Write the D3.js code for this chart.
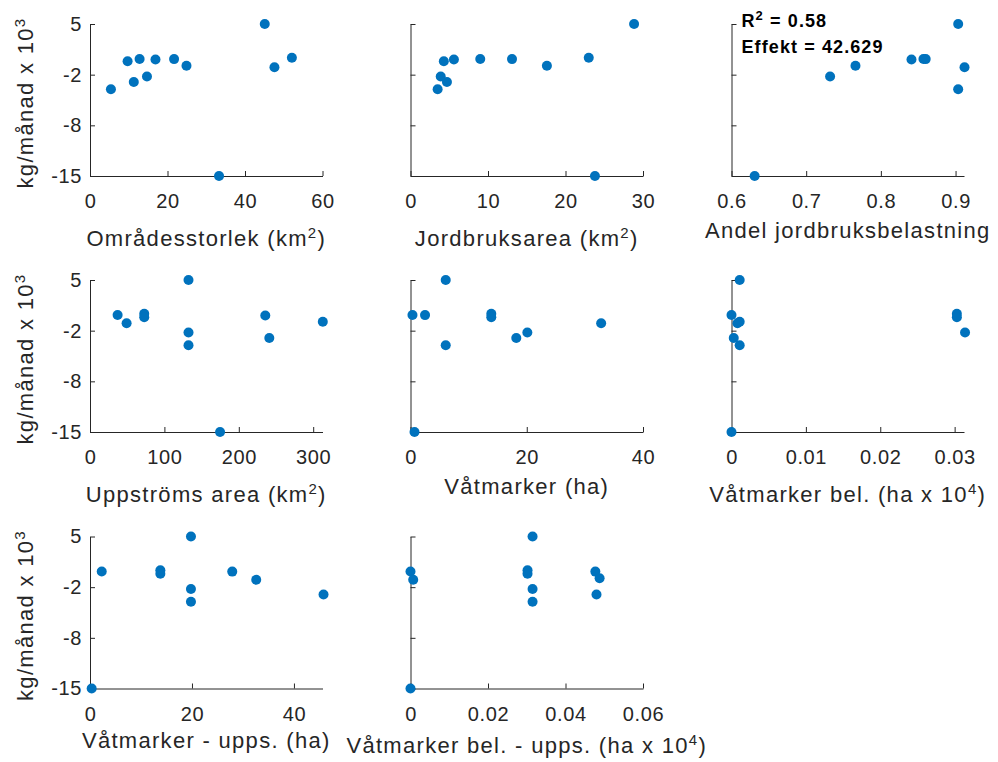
<!DOCTYPE html>
<html>
<head>
<meta charset="utf-8">
<script src="https://cdn.jsdelivr.net/npm/d3@7"></script>
<style>
  html, body { margin: 0; padding: 0; background: #ffffff; }
  svg { display: block; }
  .axis .domain, .axis .tick line { stroke: #262626; stroke-width: 1; }
  .axis text { fill: #262626; font-size: 20px; font-family: "Liberation Sans", Arial, sans-serif; letter-spacing: 0.6px; }
  .lab { fill: #262626; font-size: 22px; font-family: "Liberation Sans", Arial, sans-serif; letter-spacing: 1.3px; }
  .stat { fill: #000000; font-size: 18px; font-weight: bold; font-family: "Liberation Sans", Arial, sans-serif; letter-spacing: 1.1px; }
</style>
</head>
<body>
<div id="chart"></div>
<script>
// Monthly load change (kg/månad x 10^3) per catchment, one entry per site
const loadChange = [5, 0.55, 0.4, 0.38, 0.34, 0.1, -0.5, -0.68, -1.9, -2.62, -3.58, -15];

// Explanatory variables, same site order as loadChange (null = not plotted)
const omradesstorlek   = [45.1, 52.1, 12.8, 21.7, 16.9, 9.7, 24.9, 47.6, 14.7, 11.3, 5.4, 33.3];
const jordbruksarea    = [28.85, 23.0, 9.0, 13.1, 5.6, 4.3, 17.6, null, 3.9, 4.7, 3.5, 23.8];
const andelJordbruk    = [0.9035, null, 0.857, 0.86, 0.841, null, 0.766, 0.912, 0.732, null, 0.9035, 0.631];
const uppstromsArea    = [132.4, 72.9, 37.1, null, 235.6, 72.9, 312.9, 49.2, 132.4, 241, 132.4, 174.8];
const vatmarker        = [6.06, 13.9, 0.34, 2.5, null, 13.9, null, 32.8, 20.1, 18.2, 6.06, 0.69];
const vatmarkerBel     = [0.0011, 0.0303, 0.0, null, null, 0.0303, 0.0011, 0.0008, 0.0314, 0.0003, 0.0011, 0];
const vatmarkerUpps    = [19.8, 13.8, 2.3, 27.9, null, 13.8, null, 32.6, 19.8, 45.8, 19.8, 0.33];
const vatmarkerBelUpps = [0.0315, 0.0302, 0, 0.0477, null, 0.0302, 0.0488, 0.0007, 0.0315, 0.048, 0.0315, 0];

// Shared y axis ticks (four evenly spaced ticks, labels rounded)
const yTickValues = [5, -5 / 3, -25 / 3, -15];
const yTickLabels = ["5", "-2", "-8", "-15"];
const yLabel = "kg/månad x 10^3";

// x-axis ticks for each panel
const ticksOmrade    = [0, 20, 40, 60];
const ticksJordbruk  = [0, 10, 20, 30];
const ticksAndel     = [0.6, 0.7, 0.8, 0.9];
const ticksUppstrom  = [0, 100, 200, 300];
const ticksVatmark   = [0, 20, 40];
const ticksBel       = [0, 0.01, 0.02, 0.03];
const ticksUpps      = [0, 20, 40];
const ticksBelUpps   = [0, 0.02, 0.04, 0.06];

// Regression summary shown in the third panel
const statLines = ["R^2 = 0.58", "Effekt = 42.629"];

const panels = [
  { row: 0, col: 0, x: omradesstorlek,   domain: [0, 60],        ticks: ticksOmrade,   label: "Områdesstorlek (km^2)" },
  { row: 0, col: 1, x: jordbruksarea,    domain: [0, 30],        ticks: ticksJordbruk, label: "Jordbruksarea (km^2)" },
  { row: 0, col: 2, x: andelJordbruk,    domain: [0.6, 0.9113],  ticks: ticksAndel,    label: "Andel jordbruksbelastning", stats: true },
  { row: 1, col: 0, x: uppstromsArea,    domain: [0, 312.5],     ticks: ticksUppstrom, label: "Uppströms area (km^2)" },
  { row: 1, col: 1, x: vatmarker,        domain: [0, 40],        ticks: ticksVatmark,  label: "Våtmarker (ha)" },
  { row: 1, col: 2, x: vatmarkerBel,     domain: [0, 0.03126],   ticks: ticksBel,      label: "Våtmarker bel. (ha x 10^4)" },
  { row: 2, col: 0, x: vatmarkerUpps,    domain: [0, 45.6],      ticks: ticksUpps,     label: "Våtmarker - upps. (ha)" },
  { row: 2, col: 1, x: vatmarkerBelUpps, domain: [0, 0.06],      ticks: ticksBelUpps,  label: "Våtmarker bel. - upps. (ha x 10^4)" }
];

const W = 998, H = 762;
const colLeft = [90, 410.5, 731.5];
const rowTop = [24, 280, 536.5];
const plotW = 232.5, plotH = 152;
const markerColor = "#0072BD";

const svg = d3.select("#chart").append("svg")
  .attr("width", W).attr("height", H)
  .attr("viewBox", `0 0 ${W} ${H}`);

// Writes a string into a text node, turning "^x" into a raised superscript
function richText(sel, str, supSize, rise) {
  const parts = str.split(/\^(\w)/);
  let shift = 0;
  parts.forEach((p, i) => {
    if (p === "") return;
    const sup = i % 2 === 1;
    const target = sup ? -rise : 0;
    const t = sel.append("tspan").text(p);
    if (target !== shift) { t.attr("dy", target - shift); shift = target; }
    if (sup) t.attr("font-size", supSize);
  });
}

const y = d3.scaleLinear().domain([-15, 5]).range([plotH, 0]);

panels.forEach(p => {
  const g = svg.append("g")
    .attr("transform", `translate(${colLeft[p.col]},${rowTop[p.row]})`);

  const x = d3.scaleLinear().domain(p.domain).range([0, plotW]);

  g.append("g")
    .attr("class", "axis")
    .attr("transform", `translate(0,${plotH})`)
    .call(d3.axisBottom(x)
      .tickValues(p.ticks)
      .tickFormat(d => String(d))
      .tickSizeInner(-5).tickSizeOuter(0).tickPadding(18));

  const yAxis = d3.axisLeft(y)
    .tickValues(yTickValues)
    .tickSizeInner(-5).tickSizeOuter(0).tickPadding(8)
    .tickFormat((d, i) => yTickLabels[i]);
  const ya = g.append("g").attr("class", "axis").call(yAxis);
  if (p.col !== 0) ya.selectAll(".tick text").remove();

  // x-axis label
  const hasSup = p.label.includes("^");
  const off = p.row === 2 ? (hasSup ? 64 : 59) : (hasSup ? 70 : 62);
  const xl = g.append("text")
    .attr("class", "lab")
    .attr("x", plotW / 2)
    .attr("y", plotH + off)
    .attr("text-anchor", "middle");
  richText(xl, p.label, 15, 8);

  // y-axis label on the first column
  if (p.col === 0) {
    const yl = g.append("text")
      .attr("class", "lab")
      .attr("text-anchor", "middle")
      .attr("transform", `translate(-57,${plotH / 2 + 3}) rotate(-90)`);
    richText(yl, yLabel, 15, 8);
  }

  if (p.stats) {
    statLines.forEach((s, i) => {
      const t = g.append("text")
        .attr("class", "stat")
        .attr("x", 10)
        .attr("y", 3 + i * 26);
      richText(t, s, 13, 7);
    });
  }

  const pts = loadChange.map((v, i) => ({ x: p.x[i], y: v })).filter(d => d.x != null);
  g.append("g").selectAll("circle")
    .data(pts)
    .join("circle")
    .attr("cx", d => x(d.x))
    .attr("cy", d => y(d.y))
    .attr("r", 5)
    .attr("fill", markerColor);
});
</script>
</body>
</html>
